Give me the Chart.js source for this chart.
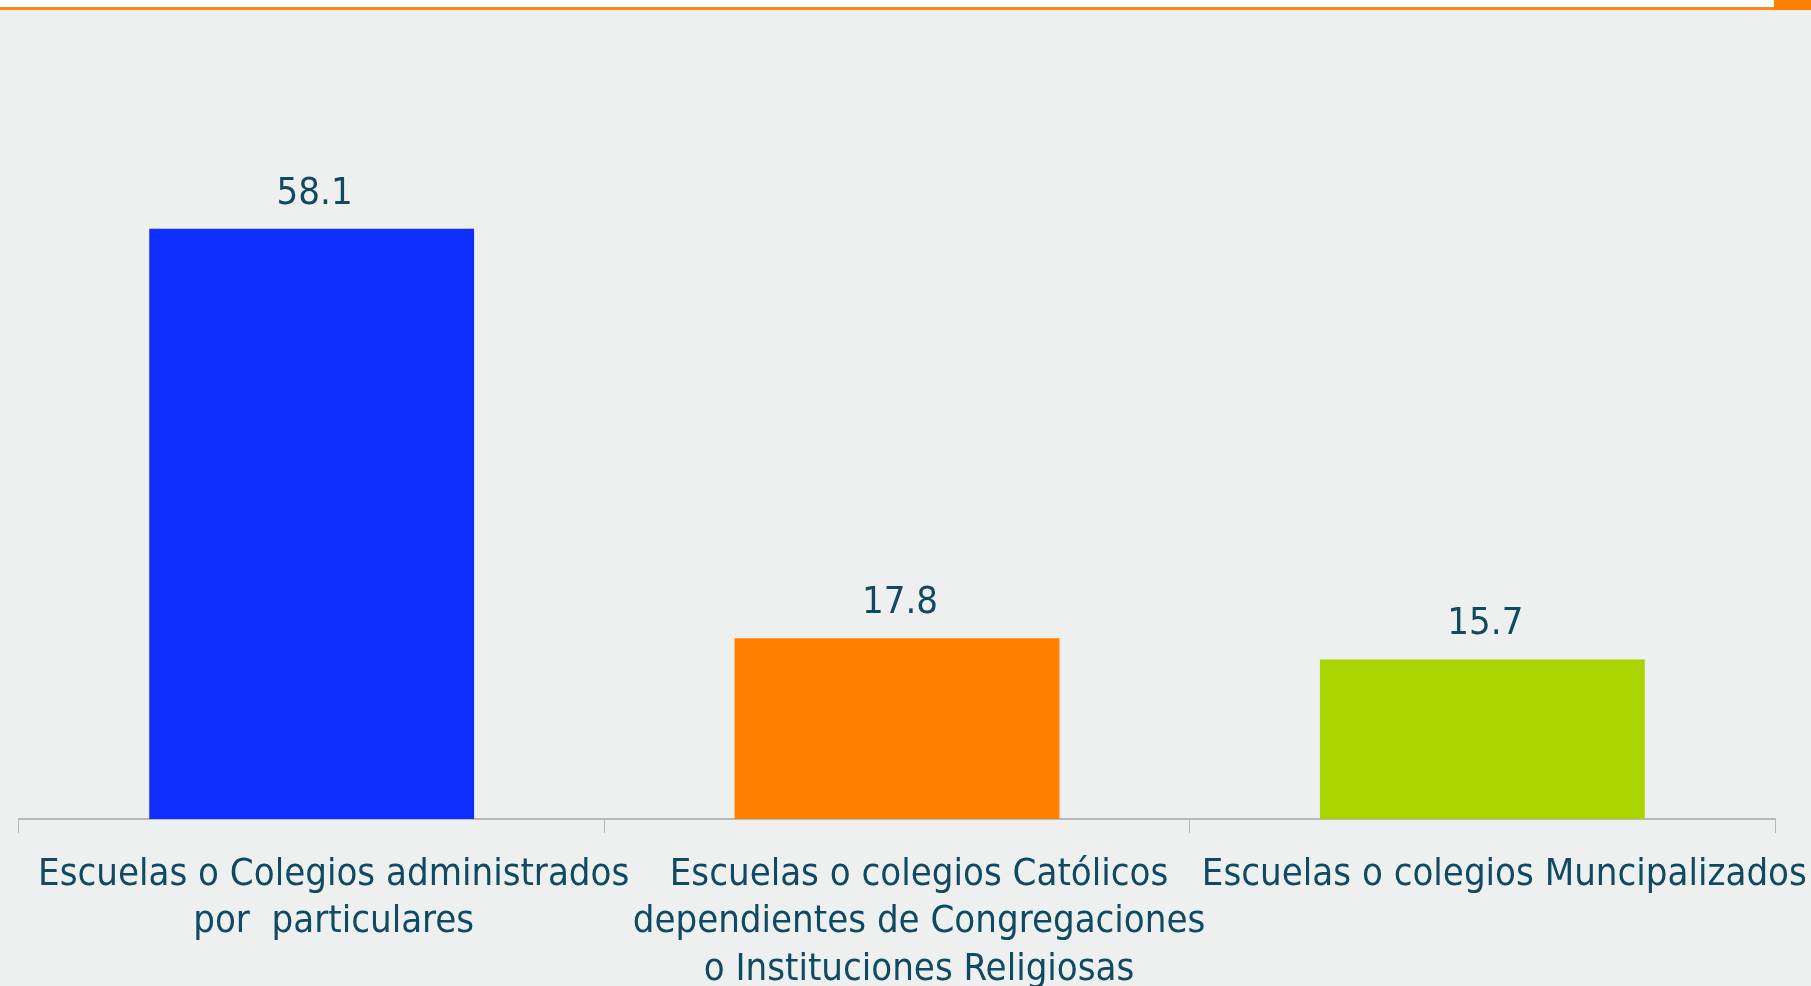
<!DOCTYPE html>
<html>
<head>
<meta charset="utf-8">
<script src="https://cdn.jsdelivr.net/npm/chart.js@4"></script>
<style>
  html, body { margin: 0; padding: 0; background: #eef0ef; overflow: hidden; }
  #wrap { position: relative; width: 1811px; height: 986px; }
  #topband { position: absolute; left: 0; top: 0; width: 1811px; height: 7px; background: #ffffff; }
  #topline { position: absolute; left: 0; top: 7px; width: 1811px; height: 3px; background: #ff8419; }
  #corner { position: absolute; left: 1774px; top: 0; width: 37px; height: 10px; background: #ff7f00; }
</style>
</head>
<body>
<div id="wrap">
  <canvas id="chart" width="1811" height="986"></canvas>
  <div id="topband"></div>
  <div id="topline"></div>
  <div id="corner"></div>
</div>
<script>
const categories = [
  ['Escuelas o Colegios administrados', 'por  particulares'],
  ['Escuelas o colegios Católicos', 'dependientes de Congregaciones', 'o Instituciones Religiosas'],
  'Escuelas o colegios Muncipalizados'
];
const values = [58.1, 17.8, 15.7];
const barColors = ['#0e2dff', '#ff7f00', '#aad400'];

const textColor = '#0f4a62';
const fontFamily = '"DejaVu Sans Condensed", "DejaVu Sans", sans-serif';

// draws the number above each bar
const valueLabels = {
  id: 'valueLabels',
  afterDatasetsDraw(chart) {
    const ctx = chart.ctx;
    const meta = chart.getDatasetMeta(0);
    ctx.save();
    ctx.fillStyle = textColor;
    ctx.font = '38px ' + fontFamily;
    ctx.textAlign = 'center';
    ctx.textBaseline = 'middle';
    meta.data.forEach((bar, i) => {
      ctx.fillText(values[i].toFixed(1), bar.x + 3, bar.y - 35);
    });
    ctx.restore();
  }
};

new Chart(document.getElementById('chart'), {
  type: 'bar',
  data: {
    labels: categories,
    datasets: [{
      data: values,
      backgroundColor: barColors,
      borderWidth: 0,
      barPercentage: 0.555,
      categoryPercentage: 1
    }]
  },
  options: {
    responsive: false,
    animation: false,
    layout: { padding: { left: 19, right: 36, top: 108, bottom: 0 } },
    plugins: { legend: { display: false }, tooltip: { enabled: false } },
    scales: {
      y: { display: false, min: 0, max: 70 },
      x: {
        afterFit(scale) {
          scale.height = 167;
          scale.paddingLeft = 0;
          scale.paddingRight = 0;
        },
        border: { display: true, color: '#b8b8b8', width: 2 },
        grid: { offset: true, drawOnChartArea: false, tickLength: 14, color: '#b8b8b8' },
        ticks: {
          color: textColor,
          font: { family: fontFamily, size: 38, lineHeight: 1.25 },
          padding: 18,
          labelOffset: 22,
          maxRotation: 0,
          autoSkip: false
        }
      }
    }
  },
  plugins: [valueLabels]
});
</script>
</body>
</html>
